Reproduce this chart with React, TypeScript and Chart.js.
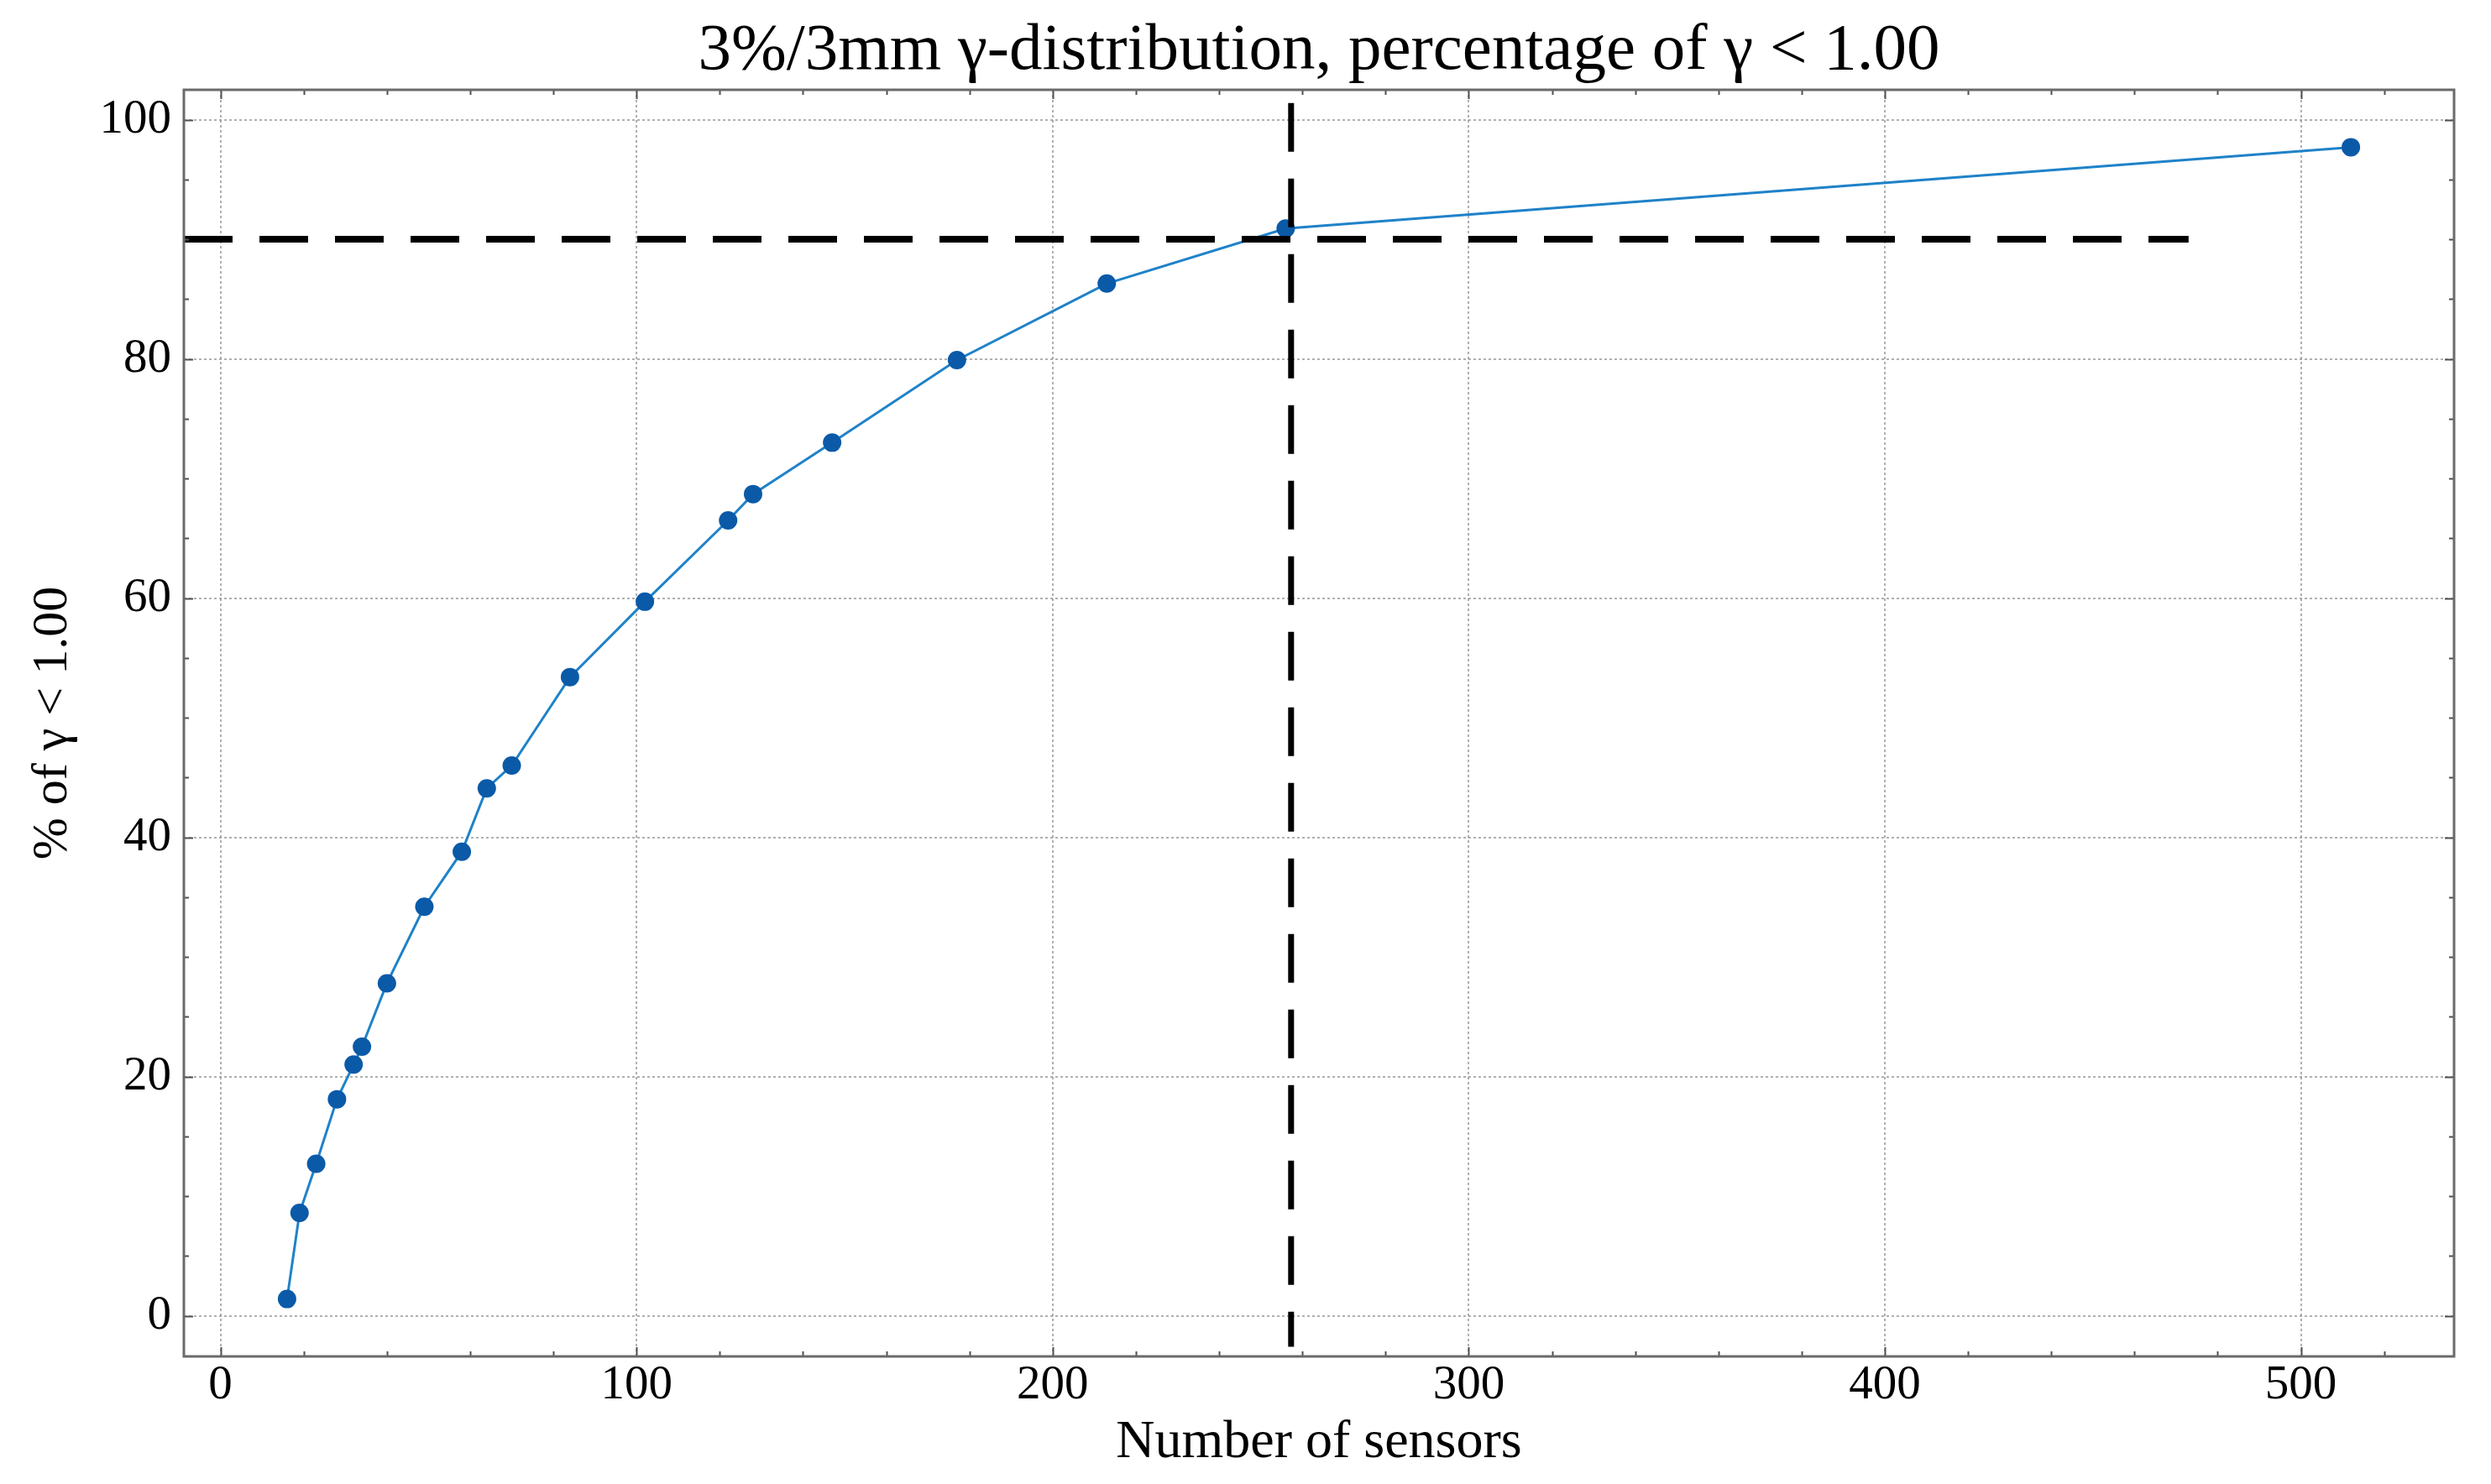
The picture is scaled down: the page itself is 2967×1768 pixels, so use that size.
import React, { useEffect, useRef } from "react";
import { Chart, registerables } from "chart.js";

Chart.register(...registerables);

// ---- data ----
const sensorCounts = [16, 19, 23, 28, 32, 34, 40, 49, 58, 64, 70, 84, 102, 122, 128, 147, 177, 213, 256, 512];
const percentBelow = [1.4, 8.6, 12.7, 18.1, 21.0, 22.5, 27.8, 34.2, 38.8, 44.1, 46.0, 53.4, 59.7, 66.5, 68.7, 73.0, 79.9, 86.3, 90.9, 97.7];

// 90 % threshold (horizontal dashed line)
const thresholdX = [-8.8, 473];
const thresholdY = [90, 90];
// cutoff at 256 sensors (vertical dashed line)
const cutoffX = [257.3, 257.3];
const cutoffY = [101.4, -2.6];

const xRange = [-8.8, 536.8];
const yRange = [-3.4, 102.5];
const xMajorStep = 100;
const xMinorStep = 20;
const yMajorStep = 20;
const yMinorStep = 5;

const titleText = "3%/3mm γ-distribution, percentage of γ < 1.00";
const xLabel = "Number of sensors";
const yLabel = "% of γ < 1.00";

const FONT = "'Liberation Serif', 'DejaVu Serif', 'Times New Roman', serif";

const frameTicksPlugin = {
  id: "frameTicks",
  afterDraw(chart: any) {
    const { ctx, chartArea: a, scales } = chart;
    const xs = scales.x;
    const ys = scales.y;
    ctx.save();
    ctx.strokeStyle = "#505050";
    ctx.lineWidth = 2;
    ctx.beginPath();
    const xRatio = Math.round(xMajorStep / xMinorStep);
    const kx0 = Math.ceil(xs.min / xMinorStep);
    const kx1 = Math.floor(xs.max / xMinorStep);
    for (let k = kx0; k <= kx1; k++) {
      const px = Math.round(xs.getPixelForValue(k * xMinorStep)) + 0.5;
      const len = k % xRatio === 0 ? 11 : 6;
      ctx.moveTo(px, a.bottom);
      ctx.lineTo(px, a.bottom - len);
      ctx.moveTo(px, a.top);
      ctx.lineTo(px, a.top + len);
    }
    const yRatio = Math.round(yMajorStep / yMinorStep);
    const ky0 = Math.ceil(ys.min / yMinorStep);
    const ky1 = Math.floor(ys.max / yMinorStep);
    for (let k = ky0; k <= ky1; k++) {
      const py = Math.round(ys.getPixelForValue(k * yMinorStep)) + 0.5;
      const len = k % yRatio === 0 ? 11 : 6;
      ctx.moveTo(a.left, py);
      ctx.lineTo(a.left + len, py);
      ctx.moveTo(a.right, py);
      ctx.lineTo(a.right - len, py);
    }
    ctx.stroke();
    ctx.strokeStyle = "#6a6a6a";
    ctx.lineWidth = 3;
    ctx.strokeRect(a.left, a.top, a.right - a.left, a.bottom - a.top);
    ctx.restore();
  },
};

export default function App() {
  const ref = useRef<HTMLCanvasElement>(null);

  useEffect(() => {
    if (!ref.current) return;
    const gridColor = "rgba(150,150,150,0.75)";
    const chart = new Chart(ref.current, {
      type: "line",
      data: {
        datasets: [
          {
            label: "90% threshold",
            data: thresholdX.map((x, i) => ({ x, y: thresholdY[i] })),
            borderColor: "#000000",
            borderWidth: 8,
            borderDash: [58, 32],
            borderCapStyle: "butt",
            pointRadius: 0,
            fill: false,
            order: 0,
          },
          {
            label: "256 sensors",
            data: cutoffX.map((x, i) => ({ x, y: cutoffY[i] })),
            borderColor: "#000000",
            borderWidth: 7,
            borderDash: [58, 32],
            borderCapStyle: "butt",
            pointRadius: 0,
            fill: false,
            order: 0,
          },
          {
            label: "% of γ < 1.00",
            data: sensorCounts.map((x, i) => ({ x, y: percentBelow[i] })),
            borderColor: "#1f82c9",
            borderWidth: 3,
            pointRadius: 11,
            pointBackgroundColor: "#0a5aa8",
            pointBorderColor: "#0a5aa8",
            pointBorderWidth: 0,
            tension: 0,
            fill: false,
            order: 1,
          },
        ],
      } as any,
      options: {
        responsive: true,
        maintainAspectRatio: false,
        animation: false,
        devicePixelRatio: 1,
        events: [],
        layout: { padding: { left: 0, right: 44, top: 0, bottom: 0 } },
        plugins: {
          legend: { display: false },
          tooltip: { enabled: false },
          title: {
            display: true,
            text: titleText,
            fullSize: false,
            color: "#000000",
            font: { family: FONT, size: 79, weight: "normal", lineHeight: 1 },
            padding: { top: 22, bottom: 6 },
          },
        },
        scales: {
          x: {
            type: "linear",
            min: xRange[0],
            max: xRange[1],
            afterFit: (s: any) => {
              s.height = 152;
            },
            ticks: {
              stepSize: xMajorStep,
              includeBounds: false,
              color: "#000000",
              font: { family: FONT, size: 57, lineHeight: 1.2 },
              padding: 1,
              maxRotation: 0,
              autoSkip: false,
            },
            grid: { color: gridColor, lineWidth: 2, drawTicks: false },
            border: { display: false, dash: [3, 3] },
            title: {
              display: true,
              text: xLabel,
              color: "#000000",
              font: { family: FONT, size: 64, lineHeight: 1 },
              padding: { top: 0, bottom: 17 },
            },
          },
          y: {
            type: "linear",
            min: yRange[0],
            max: yRange[1],
            afterFit: (s: any) => {
              s.width = 219;
            },
            ticks: {
              stepSize: yMajorStep,
              includeBounds: false,
              color: "#000000",
              font: { family: FONT, size: 57, lineHeight: 1.2 },
              padding: 15,
            },
            grid: { color: gridColor, lineWidth: 2, drawTicks: false },
            border: { display: false, dash: [3, 3] },
            title: {
              display: true,
              text: yLabel,
              color: "#000000",
              font: { family: FONT, size: 60, lineHeight: 1 },
              padding: { top: 33, bottom: 0 },
            },
          },
        },
      } as any,
      plugins: [frameTicksPlugin],
    });
    return () => chart.destroy();
  }, []);

  return (
    <div
      style={{
        position: "fixed",
        left: 0,
        top: 0,
        width: 2967,
        height: 1768,
        background: "#ffffff",
      }}
    >
      <canvas ref={ref} />
    </div>
  );
}
